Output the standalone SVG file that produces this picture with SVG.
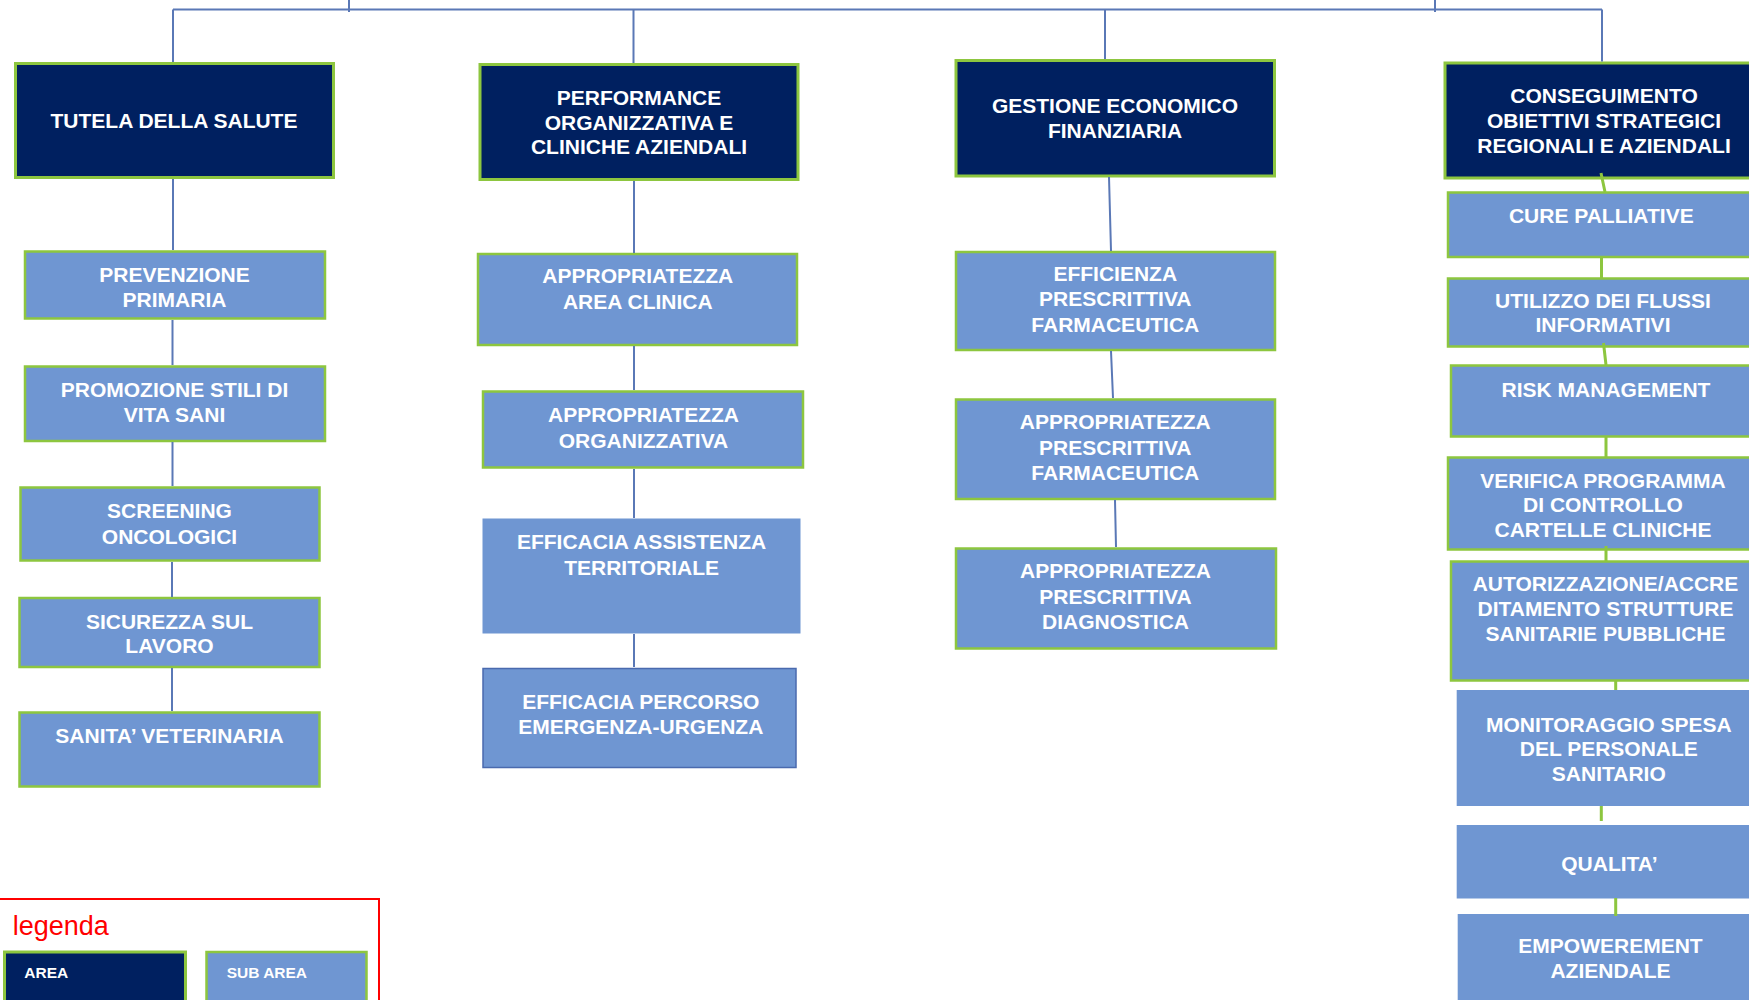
<svg xmlns="http://www.w3.org/2000/svg" width="1749" height="1000" viewBox="0 0 1749 1000">
<style>
.area{fill:#002060;stroke:#8DC63F;stroke-width:3}
.sub{fill:#6F96D2;stroke:#8DC63F;stroke-width:2.5}
.plain{fill:#6F96D2;stroke:none}
.dark{fill:#6F96D2;stroke:#4A6AAE;stroke-width:1.5}
text{font-family:"Liberation Sans",Arial,sans-serif;font-weight:bold;font-size:21px;fill:#FFFFFF;text-anchor:middle}
.conn{stroke:#5A78B6;stroke-width:2;fill:none}
.gconn{stroke:#8DC63F;stroke-width:3;fill:none}
.leg{font-size:15.5px;text-anchor:start}
.legtitle{font-weight:normal;font-size:27px;fill:#FF0000;text-anchor:start}
</style>
<rect width="1749" height="1000" fill="#FFFFFF"/>

<g id="area-tutela"><rect class="area" x="15.5" y="63.5" width="318" height="114"/><text x="174" y="128.3">TUTELA DELLA SALUTE</text></g>
<g id="area-performance"><rect class="area" x="480" y="64.5" width="318" height="115"/><text x="639" y="105">PERFORMANCE</text><text x="639" y="130">ORGANIZZATIVA E</text><text x="639" y="154.3">CLINICHE AZIENDALI</text></g>
<g id="area-gestione"><rect class="area" x="956" y="60.5" width="318.5" height="115.5"/><text x="1115" y="113.3">GESTIONE ECONOMICO</text><text x="1115" y="138.3">FINANZIARIA</text></g>
<g id="area-conseguimento"><rect class="area" x="1445" y="63" width="320" height="115"/><text x="1604" y="103.3">CONSEGUIMENTO</text><text x="1604" y="128.3">OBIETTIVI STRATEGICI</text><text x="1604" y="153.3">REGIONALI E AZIENDALI</text></g>

<g id="sub-prevenzione"><rect class="sub" x="25" y="251.5" width="300" height="67"/><text x="174.5" y="281.8">PREVENZIONE</text><text x="174.5" y="306.5">PRIMARIA</text></g>
<g id="sub-promozione"><rect class="sub" x="25" y="366.5" width="300" height="74.5"/><text x="174.5" y="396.6">PROMOZIONE STILI DI</text><text x="174.5" y="421.6">VITA SANI</text></g>
<g id="sub-screening"><rect class="sub" x="20.5" y="487.5" width="299" height="73"/><text x="169.5" y="517.8">SCREENING</text><text x="169.5" y="543.9">ONCOLOGICI</text></g>
<g id="sub-sicurezza"><rect class="sub" x="19.5" y="598" width="300" height="69"/><text x="169.5" y="628.6">SICUREZZA SUL</text><text x="169.5" y="653">LAVORO</text></g>
<g id="sub-veterinaria"><rect class="sub" x="19.5" y="712.5" width="300" height="74"/><text x="169.5" y="743.4">SANITA’ VETERINARIA</text></g>

<g id="sub-area-clinica"><rect class="sub" x="478" y="254" width="319" height="91"/><text x="637.8" y="283.3">APPROPRIATEZZA</text><text x="637.8" y="309.2">AREA CLINICA</text></g>
<g id="sub-organizzativa"><rect class="sub" x="483" y="391.5" width="320" height="76"/><text x="643.5" y="421.7">APPROPRIATEZZA</text><text x="643.5" y="447.6">ORGANIZZATIVA</text></g>
<g id="sub-territoriale"><rect class="plain" x="482.5" y="518.5" width="318" height="115"/><text x="641.6" y="549">EFFICACIA ASSISTENZA</text><text x="641.6" y="575">TERRITORIALE</text></g>
<g id="sub-emergenza"><rect class="dark" x="483" y="668.5" width="313" height="99"/><text x="640.8" y="708.8">EFFICACIA PERCORSO</text><text x="640.8" y="734">EMERGENZA-URGENZA</text></g>

<g id="sub-efficienza"><rect class="sub" x="956" y="252" width="319" height="98"/><text x="1115.3" y="280.7">EFFICIENZA</text><text x="1115.3" y="306">PRESCRITTIVA</text><text x="1115.3" y="331.7">FARMACEUTICA</text></g>
<g id="sub-appr-farmaceutica"><rect class="sub" x="956" y="399.5" width="319" height="99.5"/><text x="1115.3" y="428.6">APPROPRIATEZZA</text><text x="1115.3" y="454.5">PRESCRITTIVA</text><text x="1115.3" y="479.8">FARMACEUTICA</text></g>
<g id="sub-appr-diagnostica"><rect class="sub" x="956" y="548.5" width="320" height="100"/><text x="1115.5" y="578.4">APPROPRIATEZZA</text><text x="1115.5" y="604">PRESCRITTIVA</text><text x="1115.5" y="629">DIAGNOSTICA</text></g>

<g id="sub-cure"><rect class="sub" x="1448" y="192.5" width="320" height="64.5"/><text x="1601.3" y="223.3">CURE PALLIATIVE</text></g>
<g id="sub-flussi"><rect class="sub" x="1448" y="278.5" width="320" height="68"/><text x="1603" y="307.7">UTILIZZO DEI FLUSSI</text><text x="1603" y="332.3">INFORMATIVI</text></g>
<g id="sub-risk"><rect class="sub" x="1451" y="365.5" width="320" height="71"/><text x="1606" y="396.7">RISK MANAGEMENT</text></g>
<g id="sub-verifica"><rect class="sub" x="1448" y="457.5" width="320" height="92"/><text x="1603" y="488.3">VERIFICA PROGRAMMA</text><text x="1603" y="512.3">DI CONTROLLO</text><text x="1603" y="536.7">CARTELLE CLINICHE</text></g>
<g id="sub-autorizzazione"><rect class="sub" x="1451" y="561.5" width="320" height="119"/><text x="1605.5" y="591">AUTORIZZAZIONE/ACCRE</text><text x="1605.5" y="616">DITAMENTO STRUTTURE</text><text x="1605.5" y="640.7">SANITARIE PUBBLICHE</text></g>
<g id="sub-monitoraggio"><rect class="plain" x="1456.7" y="690" width="320" height="116"/><text x="1608.8" y="731.7">MONITORAGGIO SPESA</text><text x="1608.8" y="756">DEL PERSONALE</text><text x="1608.8" y="780.7">SANITARIO</text></g>
<g id="sub-qualita"><rect class="plain" x="1456.7" y="825" width="320" height="73.5"/><text x="1609.5" y="870.7">QUALITA’</text></g>
<g id="sub-empowerement"><rect class="plain" x="1457.7" y="914" width="320" height="100"/><text x="1610.5" y="953.3">EMPOWEREMENT</text><text x="1610.5" y="978.3">AZIENDALE</text></g>

<g id="legenda">
<rect x="-10" y="899" width="389" height="120" fill="none" stroke="#FF0000" stroke-width="2"/>
<text class="legtitle" x="12.7" y="935">legenda</text>
<rect class="area" x="4.5" y="952" width="181" height="60"/>
<text class="leg" x="24.3" y="978.3">AREA</text>
<rect class="sub" x="206.5" y="952" width="160" height="60"/>
<text class="leg" x="226.7" y="978.3">SUB AREA</text>
</g>

<g id="connectors">
<path class="conn" d="M173,9.5 H1602 M349,0 V12 M1435,0 V12 M173,9.5 V62 M633.5,9.5 V63 M1105,9.5 V59 M1602,9.5 V61.5"/>
<path class="conn" d="M173,179 V250 M172.5,320 V365 M172.5,442 V486 M172,562 V597 M172,668 V711"/>
<path class="conn" d="M634,181 V253 M634,346 V390 M634,469 V518 M634,634 V667"/>
<path class="conn" d="M1109,177 L1111,251 M1111,351 L1113,398 M1115,500 L1116,547"/>
<path class="gconn" d="M1601,173 L1605,192 M1601.5,257 V278 M1603.5,343 L1606,365 M1606,437 V457 M1606,546 V561 M1615.7,681 V690 M1601.3,806 V821 M1615.7,898 V916"/>
</g>
</svg>
